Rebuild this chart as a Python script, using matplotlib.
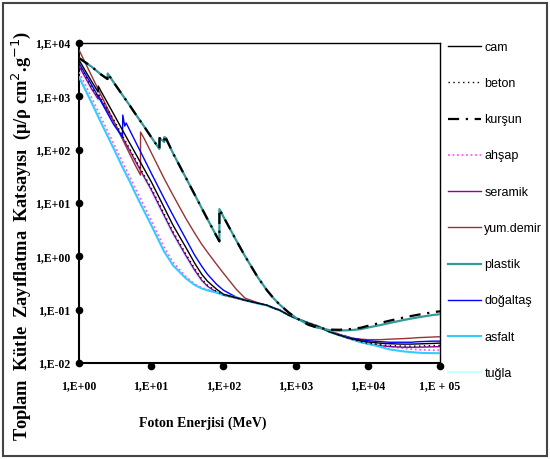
import matplotlib
matplotlib.use("Agg")
import matplotlib.pyplot as plt
from matplotlib.patches import Rectangle

# foton enerjisi (keV olarak okunan degerler, eksende "MeV" yaziyor)
enerji = [1, 1.5, 2, 3, 4, 5, 6, 8, 10, 15, 20, 30, 40, 50, 60, 80, 100, 150, 200, 300, 400,
          500, 600, 800, 1000, 1500, 2000, 3000, 4000, 5000, 6000, 8000, 10000, 15000, 20000,
          30000, 40000, 50000, 60000, 80000, 100000]
enerji_si = [1, 1.5, 1.84, 1.85, 2, 3, 4, 5, 6, 8, 10, 15, 20, 30, 40, 50, 60, 80, 100, 150, 200,
             300, 400, 500, 600, 800, 1000, 1500, 2000, 3000, 4000, 5000, 6000, 8000, 10000,
             15000, 20000, 30000, 40000, 50000, 60000, 80000, 100000]
enerji_ca = [1, 1.5, 2, 3, 4.0, 4.04, 4.3, 4.5, 6, 8, 10, 15, 20, 30, 40, 50, 60, 80, 100, 150,
             200, 300, 400, 500, 600, 800, 1000, 1500, 2000, 3000, 4000, 5000, 6000, 8000, 10000,
             15000, 20000, 30000, 40000, 50000, 60000, 80000, 100000]
enerji_fe = [1, 1.5, 2, 3, 4, 5, 6, 7.1, 7.12, 8, 10, 15, 20, 30, 40, 50, 60, 80, 100, 150, 200,
             300, 400, 500, 600, 800, 1000, 1500, 2000, 3000, 4000, 5000, 6000, 8000, 10000,
             15000, 20000, 30000, 40000, 50000, 60000, 80000, 100000]
enerji_pb = [1, 1.5, 2, 2.48, 2.5, 3, 3.5, 4, 5, 6, 8, 10, 13, 13.04, 15.2, 15.21, 15.86, 15.87,
             20, 30, 40, 50, 60, 80, 88, 88.01, 100, 150, 200, 300, 400, 500, 600, 800, 1000,
             1500, 2000, 3000, 4000, 5000, 6000, 8000, 10000, 15000, 20000, 30000, 40000, 50000,
             60000, 80000, 100000]

# kutle zayiflatma katsayilari (cm2/g)
cam = [4800, 1890, 1205, 1560, 1274, 474, 233, 135, 87, 43.3, 25.1, 8.4, 3.85, 1.49, 0.745,
       0.463, 0.343, 0.243, 0.195, 0.168, 0.151, 0.132, 0.121, 0.107, 0.098, 0.079, 0.069,
       0.056, 0.049, 0.038, 0.0335, 0.0305, 0.0285, 0.026, 0.0248, 0.0235, 0.023, 0.0226,
       0.0226, 0.0228, 0.023, 0.0233, 0.0236]
beton = [4000, 1480, 960, 1140, 940, 372, 183, 106, 67, 33, 19.2, 6.4, 2.94, 1.13, 0.59, 0.38,
         0.29, 0.22, 0.19, 0.167, 0.149, 0.132, 0.121, 0.107, 0.098, 0.079, 0.069, 0.056, 0.049,
         0.038, 0.0333, 0.0302, 0.028, 0.025, 0.0235, 0.022, 0.0213, 0.0208, 0.0207, 0.0208,
         0.021, 0.0212, 0.0214]
kursun = [5230, 3580, 2590, 2110, 2680, 1855, 1370, 1057, 687, 475, 271, 172, 103, 165, 139,
          172, 155, 168, 86.4, 30.3, 14.4, 8.04, 5.02, 2.42, 1.91, 7.68, 5.55, 2.01, 0.999, 0.403,
          0.232, 0.161, 0.125, 0.0887, 0.071, 0.0522, 0.0461, 0.0423, 0.042, 0.0427, 0.0436,
          0.0459, 0.0497, 0.0566, 0.0621, 0.0703, 0.0761, 0.0805, 0.0841, 0.0897, 0.0931]
ahsap = [2850, 930, 410, 133, 58, 32, 19, 8.7, 4.7, 1.5, 0.78, 0.42, 0.30, 0.26, 0.235, 0.212,
         0.193, 0.172, 0.152, 0.132, 0.121, 0.108, 0.099, 0.080, 0.070, 0.057, 0.050, 0.039,
         0.0345, 0.032, 0.0295, 0.026, 0.0248, 0.022, 0.0205, 0.019, 0.0182, 0.0178, 0.0176,
         0.0174, 0.0173]
seramik = [3700, 1371, 890, 1058, 871, 344, 169, 98.2, 62.4, 30.6, 17.8, 5.93, 2.72, 1.05,
           0.551, 0.357, 0.276, 0.213, 0.187, 0.164, 0.148, 0.131, 0.12, 0.106, 0.097, 0.079,
           0.069, 0.056, 0.049, 0.038, 0.033, 0.0298, 0.0275, 0.0245, 0.0228, 0.021, 0.0203,
           0.0198, 0.0197, 0.0198, 0.0199, 0.0201, 0.0203]
yum_demir = [7400, 2400, 1080, 352, 158, 84.5, 51.4, 33.4, 214, 161, 88.3, 29.3, 14.1, 5.2,
             2.72, 1.69, 1.2, 0.714, 0.484, 0.243, 0.164, 0.135, 0.122, 0.108, 0.099, 0.080,
             0.070, 0.057, 0.050, 0.0395, 0.0347, 0.0305, 0.0292, 0.028, 0.0274, 0.0274, 0.028,
             0.0286, 0.0292, 0.0299, 0.0302, 0.0307, 0.0311]
plastik = [5230, 3580, 2590, 2110, 2680, 1855, 1370, 1057, 687, 475, 271, 172, 103, 165, 139,
           172, 155, 168, 86.4, 30.3, 14.4, 8.04, 5.02, 2.42, 1.91, 7.68, 5.55, 2.01, 0.999,
           0.403, 0.232, 0.161, 0.125, 0.0887, 0.071, 0.0522, 0.046, 0.0412, 0.0405, 0.041,
           0.0415, 0.0432, 0.0462, 0.0515, 0.0562, 0.0632, 0.0682, 0.0718, 0.0748, 0.0795, 0.0822]
dogaltas = [4200, 1630, 820, 300, 172, 446, 277, 316, 145, 66.7, 36.4, 12.4, 5.9, 2.15, 1.05,
            0.655, 0.463, 0.301, 0.232, 0.172, 0.151, 0.132, 0.121, 0.107, 0.098, 0.079, 0.069,
            0.056, 0.049, 0.038, 0.034, 0.0318, 0.0292, 0.0274, 0.0262, 0.0251, 0.0245, 0.0245,
            0.0245, 0.0251, 0.0253, 0.0257, 0.0257]
asfalt = [2300, 750, 330, 107, 47, 26, 15.3, 7.0, 3.85, 1.25, 0.68, 0.39, 0.29, 0.25, 0.23, 0.21,
          0.19, 0.17, 0.15, 0.13, 0.12, 0.107, 0.098, 0.079, 0.069, 0.056, 0.049, 0.038, 0.033,
          0.0305, 0.028, 0.0245, 0.023, 0.020, 0.018, 0.0166, 0.016, 0.0156, 0.0154, 0.0153,
          0.0153]
tugla = [3400, 1260, 820, 975, 800, 316, 155, 90, 57, 28, 16.4, 5.45, 2.5, 0.97, 0.51, 0.33,
         0.26, 0.205, 0.183, 0.164, 0.148, 0.131, 0.12, 0.106, 0.097, 0.079, 0.069, 0.056, 0.049,
         0.038, 0.0332, 0.03, 0.0277, 0.0247, 0.023, 0.0212, 0.0205, 0.02, 0.0199, 0.02, 0.0201,
         0.0203, 0.0205]

x_ticks = [1, 10, 100, 1000, 10000, 100000]
x_tick_labels = ["1,E+00", "1,E+01", "1,E+02", "1,E+03", "1,E+04", "1,E + 05"]
y_ticks = [0.01, 0.1, 1, 10, 100, 1000, 10000]
y_tick_labels = ["1,E-02", "1,E-01", "1,E+00", "1,E+01", "1,E+02", "1,E+03", "1,E+04"]

serif = ["Liberation Serif", "DejaVu Serif"]
sans = ["Liberation Sans", "DejaVu Sans"]

fig = plt.figure(figsize=(5.5, 4.59), dpi=100)
ax = fig.add_axes([79 / 550, 1 - 363 / 459, 361 / 550, 320 / 459])

lines = {}
lines["cam"], = ax.plot(enerji_si, cam, color="black", lw=1.0, zorder=4)
lines["beton"], = ax.plot(enerji_si, beton, color="black", lw=1.0, ls=(0, (1, 2.5)), zorder=4)
lines["ahşap"], = ax.plot(enerji, ahsap, color="#ff55ff", lw=1.3, ls=(0, (1, 1.5)), zorder=3)
lines["seramik"], = ax.plot(enerji_si, seramik, color="#990099", lw=1.0, zorder=3)
lines["yum.demir"], = ax.plot(enerji_fe, yum_demir, color="#993333", lw=1.0, zorder=3)
lines["doğaltaş"], = ax.plot(enerji_ca, dogaltas, color="#0000ff", lw=1.0, zorder=3)
lines["tuğla"], = ax.plot(enerji_si, tugla, color="#ccffff", lw=1.5, zorder=2)
lines["asfalt"], = ax.plot(enerji, asfalt, color="#33ccff", lw=1.5, zorder=3)
lines["plastik"], = ax.plot(enerji_pb, plastik, color="#339999", lw=1.6, zorder=5)
lines["kurşun"], = ax.plot(enerji_pb, kursun, color="black", lw=1.6, ls=(0, (5, 3, 1, 3)), zorder=6)

ax.set_xscale("log")
ax.set_yscale("log")
ax.set_xlim(1, 100000)
ax.set_ylim(0.01, 10000)
ax.minorticks_off()
ax.set_xticks(x_ticks)
ax.set_xticklabels(x_tick_labels)
ax.set_yticks(y_ticks)
ax.set_yticklabels(y_tick_labels)
ax.tick_params(length=0)
ax.tick_params(axis="x", pad=12)
ax.tick_params(axis="y", pad=6)
for lab in ax.get_xticklabels() + ax.get_yticklabels():
    lab.set_family(serif)
    lab.set_fontweight("bold")
    lab.set_fontsize(8.5)

for s in ["left", "bottom"]:
    ax.spines[s].set_linewidth(1.5)
for s in ["top", "right"]:
    ax.spines[s].set_linewidth(1.0)

# tik noktalari
ax.plot([0] * len(y_ticks), y_ticks, "o", color="black", ms=4.5,
        transform=ax.get_yaxis_transform(), clip_on=False, zorder=10)
ax.plot(x_ticks[1:], [-0.008] * (len(x_ticks) - 1), "o", color="black", ms=4.5,
        transform=ax.get_xaxis_transform(), clip_on=False, zorder=10)

order = ["cam", "beton", "kurşun", "ahşap", "seramik", "yum.demir", "plastik", "doğaltaş",
         "asfalt", "tuğla"]
ax.legend([lines[k] for k in order], order, loc="upper left", bbox_to_anchor=(1.0, 1.028),
          frameon=False, handlelength=2.7, handletextpad=0.25, labelspacing=1.94,
          borderaxespad=0.2, prop={"family": sans, "size": 9})

fig.text(203 / 550, 1 - 423 / 459, "Foton Enerjisi (MeV)", ha="center", va="center",
         family=serif, fontweight="bold", fontsize=10)
fig.text(21 / 550, 1 - 236 / 459,
         "Toplam  Kütle  Zayıflatma  Katsayısı  (μ/ρ cm$^{2}$.g$^{-1}$)",
         ha="center", va="center", rotation=90, family=serif, fontweight="bold", fontsize=13.2)

fig.add_artist(Rectangle((3 / 550, 3 / 459), 544 / 550, 453 / 459, transform=fig.transFigure,
                         fill=False, edgecolor="#444444", lw=1.5))

fig.savefig("out.png", dpi=100)
